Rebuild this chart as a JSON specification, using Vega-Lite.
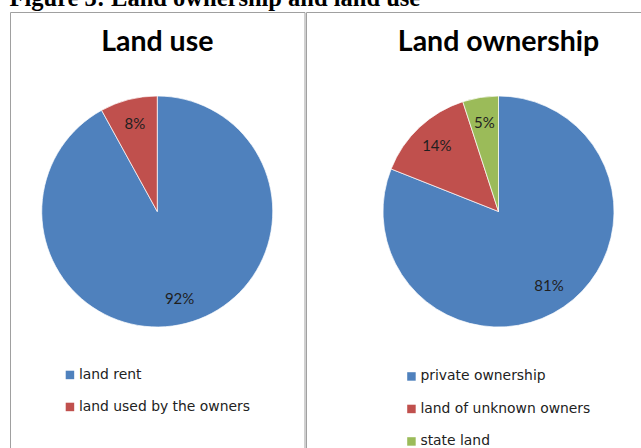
{
  "$schema": "https://vega.github.io/schema/vega-lite/v6.json",
  "padding": {"left": 9, "top": -15, "right": 0, "bottom": 0},
  "background": "white",
  "title": {
    "text": "Figure 3: Land ownership and land use",
    "anchor": "start",
    "baseline": "alphabetic",
    "offset": -18.5,
    "font": "Liberation Serif",
    "fontSize": 24.5,
    "fontWeight": "bold",
    "color": "#000000"
  },
  "config": {
    "view": {"stroke": "#a0a0a0", "strokeWidth": 1},
    "legend": {
      "orient": "none",
      "title": null,
      "symbolType": "square",
      "symbolSize": 72,
      "symbolStrokeWidth": 0,
      "labelFont": "DejaVu Sans",
      "labelFontSize": 13.9,
      "labelLimit": 0,
      "labelColor": "#222222",
      "labelOffset": 2,
      "padding": 0
    }
  },
  "spacing": 0,
  "resolve": {"scale": {"color": "independent"}, "legend": {"color": "independent"}},
  "hconcat": [
    {
      "width": 294.5,
      "height": 440,
      "view": {"stroke": "#a0a0a0", "strokeWidth": 1},
      "title": {"text": "Land use", "baseline": "alphabetic", "offset": -67.5, "font": "Lato", "fontSize": 28.5, "fontWeight": "bold", "color": "#000000"},
      "data": {"values": [
        {"category": "land rent", "value": 92, "label": "92%", "order": 1},
        {"category": "land used by the owners", "value": 8, "label": "8%", "order": 2}
      ]},
      "encoding": {
        "theta": {"field": "value", "type": "quantitative", "stack": true},
        "order": {"field": "order", "type": "quantitative"}
      },
      "layer": [
        {
          "mark": {"type": "arc", "outerRadius": 115.5, "y": {"expr": "height/2 - 20.5"}, "stroke": "#ffffff", "strokeWidth": 0.7},
          "encoding": {
            "color": {
              "field": "category", "type": "nominal",
              "scale": {"domain": ["land rent", "land used by the owners"], "range": ["#4F81BD", "#C0504D"]},
              "legend": {"legendX": 53, "legendY": 356, "rowPadding": 17}
            }
          }
        },
        {
          "mark": {"type": "text", "radius": 90, "y": {"expr": "height/2 - 20.5"}, "font": "Lato", "fontSize": 15, "color": "#1f1f1f"},
          "encoding": {"text": {"field": "label", "type": "nominal"}}
        }
      ]
    },
    {
      "width": 385,
      "height": 440,
      "view": {"stroke": "#a0a0a0", "strokeWidth": 1},
      "title": {"text": "Land ownership", "baseline": "alphabetic", "offset": -67.5, "font": "Lato", "fontSize": 28.5, "fontWeight": "bold", "color": "#000000"},
      "data": {"values": [
        {"category": "private ownership", "value": 81, "label": "81%", "order": 1},
        {"category": "land of unknown owners", "value": 14, "label": "14%", "order": 2},
        {"category": "state land", "value": 5, "label": "5%", "order": 3}
      ]},
      "encoding": {
        "theta": {"field": "value", "type": "quantitative", "stack": true},
        "order": {"field": "order", "type": "quantitative"}
      },
      "layer": [
        {
          "mark": {"type": "arc", "outerRadius": 115.5, "y": {"expr": "height/2 - 20.5"}, "stroke": "#ffffff", "strokeWidth": 0.7},
          "encoding": {
            "color": {
              "field": "category", "type": "nominal",
              "scale": {"domain": ["private ownership", "land of unknown owners", "state land"], "range": ["#4F81BD", "#C0504D", "#9BBB59"]},
              "legend": {"legendX": 98.5, "legendY": 357.5, "rowPadding": 17.5}
            }
          }
        },
        {
          "mark": {"type": "text", "radius": 90, "y": {"expr": "height/2 - 20.5"}, "font": "Lato", "fontSize": 15, "color": "#1f1f1f"},
          "encoding": {"text": {"field": "label", "type": "nominal"}}
        }
      ]
    }
  ]
}
